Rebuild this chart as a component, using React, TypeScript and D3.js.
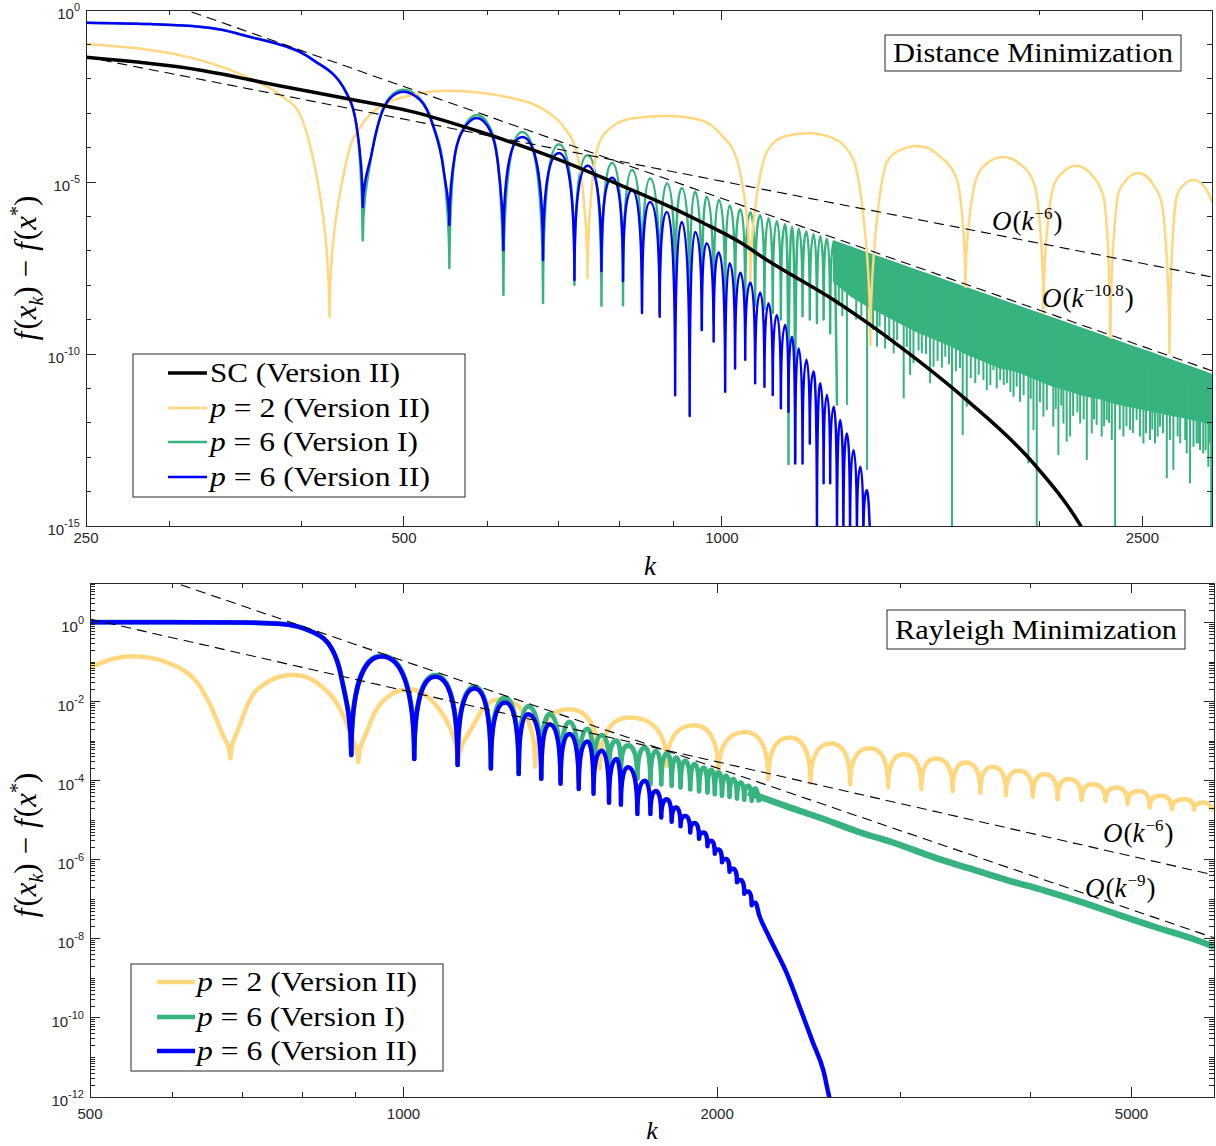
import React from 'react';
import * as d3 from 'd3';

// ================= DATA (values are log10 exponents of f(x_k) - f(x*)) =================
// ---- Top panel: Distance Minimization ----
const topXMajor = [250, 500, 1000, 2500];
const topXMinor = [300, 400, 600, 700, 800, 900, 2000];
const topYMajorExp = [0, -5, -10, -15];

const scK = [250, 320, 382, 441, 510, 590, 683, 787, 913, 954, 1041, 1103, 1276, 1475, 1705, 1972, 2183, 2260];
const scE = [-1.376, -1.744, -2.21, -2.57, -2.96, -3.54, -4.22, -4.99, -5.86, -6.15, -6.76, -7.27, -8.43, -9.79, -11.34, -13.18, -14.97, -15.8];

const p2TopK = [250, 320, 357, 384, 398, 425, 442, 457, 475, 510, 549, 635, 683, 708, 729, 746, 763, 787, 824, 887, 954, 1002, 1031, 1064, 1103, 1144, 1207, 1276, 1332, 1382, 1433, 1475, 1530, 1609, 1669, 1700, 1743, 1781, 1846, 1929, 1979, 2015, 2059, 2097, 2165, 2247, 2297, 2332, 2373, 2407, 2478, 2561, 2608, 2652, 2694, 2734, 2796, 2876, 2913];
const p2TopE = [-0.99, -1.45, -1.98, -2.53, -3.0, -8.92, -4.27, -3.30, -2.80, -2.47, -2.35, -2.57, -2.96, -3.39, -4.17, -7.79, -3.97, -3.39, -3.15, -3.08, -3.20, -3.68, -4.26, -7.94, -4.12, -3.68, -3.58, -3.73, -4.36, -9.74, -4.41, -4.07, -3.95, -4.26, -4.94, -8.05, -4.85, -4.46, -4.27, -4.56, -5.14, -8.81, -5.14, -4.75, -4.53, -4.85, -5.43, -9.53, -5.33, -4.99, -4.74, -5.09, -5.62, -9.97, -5.43, -5.09, -4.94, -5.23, -5.61];

const p6v2TopK = [250, 287, 320, 337, 357, 377, 398, 410, 441, 451, 457, 466, 475, 485, 499, 518, 533, 545, 552, 559, 570, 586, 603, 613, 621, 647, 677, 701, 725, 746, 769, 787, 806, 822, 840, 855, 873, 887, 903, 916, 932, 943, 957, 967, 982, 993, 1007, 1017, 1029, 1041, 1052, 1064, 1075, 1087, 1097, 1107, 1117, 1127, 1137, 1148, 1156, 1165, 1173, 1182, 1192, 1202, 1211, 1221, 1230, 1239, 1248, 1257, 1266, 1276, 1285, 1294, 1303, 1313, 1322, 1332, 1342, 1352, 1361, 1372, 1382];
const p6v2TopE = [-0.37, -0.41, -0.485, -0.58, -0.78, -0.96, -1.21, -1.45, -2.41, -3.39, -5.73, -4.17, -3.10, -2.57, -2.38, -2.62, -3.39, -4.65, -6.25, -4.17, -3.44, -3.14, -3.49, -4.36, -6.98, -3.69, -7.27, -4.16, -7.85, -4.53, -7.59, -4.88, -7.88, -5.23, -8.81, -5.58, -8.92, -5.87, -11.2, -6.16, -11.8, -6.45, -9.30, -6.78, -9.64, -7.05, -11.10, -7.36, -10.42, -7.64, -10.17, -7.93, -10.85, -8.22, -10.95, -8.53, -11.19, -8.87, -11.58, -9.16, -11.68, -9.50, -13.18, -9.84, -13.18, -10.17, -12.60, -10.51, -15.5, -10.85, -13.76, -11.19, -13.76, -11.53, -15.5, -11.92, -15.5, -12.31, -15.5, -12.79, -15.5, -13.28, -15.5, -13.95, -15.5];

const p6v1TopK = [250, 287, 320, 337, 357, 377, 398, 410, 441, 451, 457, 466, 475, 485, 499, 518, 533, 545, 552, 559, 570, 586, 603, 613, 621, 647, 677, 701, 725, 746, 769, 787, 806, 822, 840, 855, 873, 887, 903, 916, 932, 943, 957, 967, 982, 993, 1007, 1017, 1029, 1041, 1052, 1064, 1075, 1087, 1097, 1107, 1117, 1127, 1137, 1148, 1156, 1165, 1173, 1182, 1192, 1202, 1211, 1221, 1230, 1239, 1248, 1257, 1266, 1276, 1285];
const p6v1TopE = [-0.37, -0.41, -0.485, -0.58, -0.78, -0.96, -1.21, -1.45, -2.41, -3.39, -6.69, -4.17, -3.08, -2.53, -2.32, -2.58, -3.35, -4.6, -7.50, -4.17, -3.40, -3.05, -3.42, -4.30, -8.28, -3.55, -8.52, -3.90, -7.99, -4.22, -8.60, -4.45, -8.58, -4.65, -8.6, -4.90, -8.8, -5.04, -8.7, -5.18, -8.9, -5.28, -9.3, -5.43, -9.1, -5.52, -8.7, -5.68, -8.5, -5.80, -8.6, -5.88, -8.6, -5.97, -8.7, -6.06, -8.8, -6.14, -9.0, -6.23, -13.2, -6.30, -13.1, -6.36, -8.9, -6.44, -9.0, -6.52, -9.1, -6.58, -9.0, -6.65, -9.4, -6.72, -11.5];

// dense (unresolved) oscillation band of p = 6 (Version I): upper envelope and solid floor
const p6v1BandK = [1276, 1323, 1372, 1422, 1475, 1529, 1586, 1644, 1705, 1768, 1834, 1901, 1972, 2045, 2120, 2199, 2280, 2364, 2452, 2542, 2637, 2734, 2835, 2910];
const p6v1BandUpper = [-6.72, -6.89, -7.06, -7.23, -7.40, -7.57, -7.74, -7.91, -8.08, -8.25, -8.42, -8.59, -8.76, -8.93, -9.10, -9.27, -9.44, -9.61, -9.79, -9.95, -10.13, -10.30, -10.47, -10.60];
const p6v1BandLower = [-7.9, -8.3, -8.6, -8.85, -9.1, -9.35, -9.55, -9.75, -10.0, -10.2, -10.4, -10.5, -10.7, -10.9, -11.05, -11.2, -11.3, -11.45, -11.55, -11.65, -11.75, -11.85, -11.95, -12.05];
// individual downward spikes below the solid part
const p6v1SpikeK = [1290, 1300, 1313, 1340, 1355, 1372, 1390, 1402, 1410, 1427, 1440, 1454, 1465, 1486, 1496, 1507, 1518, 1535, 1546, 1560, 1574, 1586, 1600, 1615, 1627, 1640, 1651, 1665, 1680, 1690, 1705, 1720, 1737, 1750, 1768, 1781, 1795, 1807, 1820, 1834, 1848, 1861, 1875, 1888, 1901, 1915, 1930, 1950, 1960, 1972, 1986, 2000, 2015, 2030, 2059, 2070, 2082, 2095, 2105, 2120, 2136, 2150, 2170, 2183, 2200, 2215, 2239, 2250, 2263, 2288, 2300, 2313, 2325, 2339, 2356, 2380, 2399, 2415, 2434, 2450, 2469, 2487, 2506, 2520, 2542, 2555, 2570, 2585, 2598, 2615, 2637, 2655, 2675, 2700, 2715, 2745, 2754, 2774, 2795, 2814, 2825, 2835, 2855, 2870, 2887, 2895, 2905];
const p6v1SpikeE = [-8.6, -8.9, -11.48, -9.0, -8.9, -13.37, -9.3, -9.79, -9.2, -9.84, -9.5, -9.98, -9.6, -11.29, -9.8, -10.61, -10.27, -9.9, -9.98, -10.0, -10.85, -10.37, -10.2, -10.4, -10.08, -10.3, -15.5, -10.5, -10.4, -12.36, -11.53, -10.7, -10.85, -10.6, -10.76, -11.05, -10.9, -10.47, -11.0, -10.76, -10.9, -10.85, -11.1, -11.24, -10.95, -11.39, -11.2, -13.18, -11.3, -12.21, -15.5, -11.4, -11.82, -11.63, -12.11, -11.6, -12.94, -11.5, -12.02, -12.55, -12.40, -11.8, -11.7, -12.02, -11.9, -13.08, -12.31, -11.9, -12.06, -12.40, -12.1, -11.92, -12.0, -12.50, -15.5, -12.2, -12.40, -12.1, -12.21, -12.3, -11.92, -12.40, -12.60, -12.3, -12.50, -12.2, -12.60, -12.4, -12.11, -12.3, -13.61, -12.5, -13.37, -12.4, -12.6, -12.5, -12.89, -13.76, -12.7, -12.60, -12.6, -12.79, -12.89, -12.8, -13.28, -12.6, -15.5];

// reference slopes (anchor k, anchor exponent, power)
const topRefK0 = [250, 1665];
const topRefE0 = [-1.366, -7.87];
const topRefPow = [6, 10.8];

// ---- Bottom panel: Rayleigh Minimization ----
const botXMajor = [500, 1000, 2000, 5000];
const botXMinor = [600, 700, 800, 900, 3000, 4000];
const botYMajorExp = [0, -2, -4, -6, -8, -10, -12];

const p2BotK = [500, 549, 604, 643, 669, 682, 696, 724, 783, 847, 888, 905, 924, 953, 1011, 1082, 1128, 1166, 1237, 1338, 1443, 1543, 1649, 1790, 1903, 2006, 2129, 2240, 2348, 2459, 2573, 2684, 2802, 2919, 3023, 3141, 3245, 3367, 3464, 3579, 3681, 3788, 3897, 4020, 4126, 4246, 4351, 4477, 4587, 4720, 4837, 4956, 5079, 5204, 5333, 5465, 5624, 5740, 5881, 6002];
const p2BotE = [-1.14, -0.85, -1.10, -1.77, -2.78, -3.43, -2.61, -1.69, -1.33, -1.77, -2.78, -3.53, -2.70, -2.02, -1.69, -2.19, -3.60, -2.61, -1.94, -3.65, -2.19, -3.70, -2.40, -3.63, -2.60, -3.84, -2.77, -3.96, -2.91, -4.05, -3.06, -4.09, -3.18, -4.16, -3.33, -4.21, -3.44, -4.26, -3.54, -4.30, -3.65, -4.37, -3.75, -4.40, -3.84, -4.47, -3.96, -4.49, -4.09, -4.52, -4.17, -4.59, -4.26, -4.68, -4.38, -4.72, -4.47, -4.73, -4.55, -4.76];

const p6v2BotK = [500, 600, 700, 759, 821, 854, 871, 891, 953, 1024, 1073, 1127, 1170, 1213, 1252, 1290, 1317, 1356, 1381, 1415, 1443, 1473, 1502, 1522, 1550, 1575, 1601, 1617, 1643, 1677, 1705, 1726, 1747, 1768, 1790, 1809, 1827, 1845, 1864, 1885, 1903, 1922, 1942, 1958, 1974, 1990, 2006, 2022, 2040, 2056, 2073, 2090, 2107, 2124, 2142, 2159, 2177, 2195, 2240, 2333, 2410, 2470, 2531, 2562, 2600];
const p6v2BotE = [0.01, 0.01, 0.0, -0.03, -0.26, -0.68, -1.35, -3.35, -0.86, -3.45, -1.37, -3.60, -1.67, -3.69, -2.02, -3.83, -2.32, -3.95, -2.57, -4.08, -2.82, -4.21, -3.01, -4.33, -3.24, -4.56, -3.45, -4.61, -3.66, -4.84, -4.00, -4.84, -4.26, -4.93, -4.47, -5.04, -4.68, -5.15, -4.89, -5.31, -5.07, -5.47, -5.31, -5.66, -5.52, -5.85, -5.74, -6.06, -5.98, -6.30, -6.23, -6.57, -6.51, -6.86, -6.80, -7.15, -7.09, -7.40, -7.91, -8.87, -9.84, -10.60, -11.35, -11.98, -12.6];

const p6v1BotK = [500, 600, 700, 759, 821, 854, 871, 891, 953, 1024, 1073, 1127, 1170, 1213, 1252, 1290, 1317, 1356, 1381, 1415, 1443, 1473, 1502, 1522, 1550, 1575, 1601, 1617, 1643, 1677, 1705, 1726, 1747, 1768, 1790, 1809, 1827, 1845, 1864, 1885, 1903, 1922, 1942, 1958, 1974, 1990, 2006, 2022, 2040, 2056, 2073, 2090, 2107, 2124, 2142, 2159, 2177, 2195];
const p6v1BotE = [0.01, 0.01, 0.0, -0.03, -0.26, -0.68, -1.35, -3.35, -0.84, -3.45, -1.33, -3.60, -1.62, -3.69, -1.90, -3.83, -2.12, -3.95, -2.32, -4.0, -2.51, -4.0, -2.69, -3.9, -2.85, -3.7, -2.99, -3.75, -3.11, -3.95, -3.16, -4.09, -3.25, -4.09, -3.31, -4.13, -3.42, -4.17, -3.50, -4.22, -3.58, -4.27, -3.67, -4.30, -3.73, -4.34, -3.79, -4.38, -3.88, -4.41, -3.96, -4.45, -4.05, -4.48, -4.13, -4.51, -4.20, -4.55];
const p6v1BotTailK = [2142, 2195, 2333, 2531, 2746, 2979, 3231, 3506, 3803, 4126, 4476, 4857, 5269, 5716, 6002];
const p6v1BotTailE = [-4.30, -4.40, -4.65, -4.97, -5.31, -5.60, -5.94, -6.23, -6.52, -6.78, -7.07, -7.39, -7.70, -7.99, -8.20];

const botRefK0 = [500, 1000];
const botRefE0 = [0.09, -0.97];
const botRefPow = [6, 9];

// ================= STYLE =================
const C_YEL = '#FFD77F';
const C_GRN = '#36B37E';
const C_BLU = '#0000FF';
const C_AX = '#262626';
const SERIF = '"Liberation Serif", "Times New Roman", serif';
const SANS = '"Liberation Sans", Arial, Helvetica, sans-serif';

const TOP = { left: 86, right: 1212, top: 10, bottom: 526 };
const BOT = { left: 90, right: 1214, top: 583, bottom: 1097 };

type Sc = (v: number) => number;

// smooth oscillating curve: cusps at dips, flat tops at peaks
function oscPath(ks: number[], es: number[], x: Sc, y: Sc): string {
  const P = ks.map((k, i) => [x(k), y(Math.pow(10, es[i]))]);
  const n = P.length;
  const type = P.map((p, i) => {
    if (i === 0 || i === n - 1) return 'r';
    const a = P[i - 1][1], b = P[i + 1][1];
    if (p[1] > a && p[1] > b) return 'd';
    if (p[1] < a && p[1] < b) return 'p';
    return 'r';
  });
  const sec = (i: number) => (P[i + 1][1] - P[i][1]) / (P[i + 1][0] - P[i][0]);
  const slope: number[] = P.map((p, i) => {
    if (i === 0 || i === n - 1) return NaN;
    const s0 = sec(i - 1), s1 = sec(i);
    if (s0 * s1 <= 0) return 0;
    const h0 = p[0] - P[i - 1][0], h1 = P[i + 1][0] - p[0];
    const pp = (s0 * h1 + s1 * h0) / (h0 + h1);
    return 2 * Math.sign(s0) * Math.min(Math.abs(s0), Math.abs(s1), 0.5 * Math.abs(pp));
  });
  if (n > 2) {
    slope[0] = (3 * sec(0) - slope[1]) / 2;
    slope[n - 1] = (3 * sec(n - 2) - slope[n - 2]) / 2;
  } else {
    slope[0] = slope[n - 1] = sec(0);
  }
  const path = d3.path();
  path.moveTo(P[0][0], P[0][1]);
  for (let i = 0; i < n - 1; i++) {
    const [x0, y0] = P[i];
    const [x1, y1] = P[i + 1];
    const dx = x1 - x0, dy = y1 - y0;
    const t0 = type[i], t1 = type[i + 1];
    let c1x, c1y, c2x, c2y;
    if (t0 === 'd') { c1x = x0; c1y = y0 + dy * (t1 === 'p' ? 0.7 : 0.5); }
    else if (t0 === 'p') { c1x = x0 + dx * (t1 === 'd' ? 0.6 : 0.4); c1y = y0; }
    else { c1x = x0 + dx / 3; c1y = y0 + slope[i] * dx / 3; }
    if (t1 === 'd') { c2x = x1; c2y = y1 - dy * (t0 === 'p' ? 0.7 : 0.5); }
    else if (t1 === 'p') { c2x = x1 - dx * (t0 === 'd' ? 0.6 : 0.4); c2y = y1; }
    else { c2x = x1 - dx / 3; c2y = y1 - slope[i + 1] * dx / 3; }
    path.bezierCurveTo(c1x, c1y, c2x, c2y, x1, y1);
  }
  return path.toString();
}

function smoothPath(ks: number[], es: number[], x: Sc, y: Sc): string {
  const line = d3.line<number>()
    .x((_, i) => x(ks[i]))
    .y((e) => y(Math.pow(10, e)))
    .curve(d3.curveMonotoneX);
  return line(es) || '';
}

function refLine(k0: number, e0: number, p: number, kMin: number, kMax: number, x: Sc, y: Sc) {
  const v = (k: number) => Math.pow(10, e0 - p * Math.log10(k / k0));
  return `M${x(kMin)},${y(v(kMin))}L${x(kMax)},${y(v(kMax))}`;
}

function Sup({ base, exp, x, y, size = 15 }: { base: string; exp: string; x: number; y: number; size?: number }) {
  return (
    <text x={x} y={y} textAnchor="end" fontFamily={SANS} fontSize={size} fill={C_AX}>
      {base}
      <tspan dy={-8} fontSize={11}>{exp}</tspan>
    </text>
  );
}

function Frame({ box, x, y, xMajor, xMinor, yMajorExp, yMinor, xLabelY }: any) {
  const els: any[] = [];
  const MJ = 10, MN = 5;
  xMajor.forEach((k: number, i: number) => {
    const px = x(k);
    els.push(<line key={'xM' + i} x1={px} x2={px} y1={box.bottom} y2={box.bottom - MJ} stroke={C_AX} />);
    els.push(<line key={'xMt' + i} x1={px} x2={px} y1={box.top} y2={box.top + MJ} stroke={C_AX} />);
    els.push(<text key={'xL' + i} x={px} y={xLabelY} textAnchor="middle" fontFamily={SANS} fontSize={15} fill={C_AX}>{k}</text>);
  });
  xMinor.forEach((k: number, i: number) => {
    const px = x(k);
    els.push(<line key={'xm' + i} x1={px} x2={px} y1={box.bottom} y2={box.bottom - MN} stroke={C_AX} />);
    els.push(<line key={'xmt' + i} x1={px} x2={px} y1={box.top} y2={box.top + MN} stroke={C_AX} />);
  });
  yMajorExp.forEach((e: number, i: number) => {
    const py = y(Math.pow(10, e));
    els.push(<line key={'yM' + i} x1={box.left} x2={box.left + MJ} y1={py} y2={py} stroke={C_AX} />);
    els.push(<line key={'yMr' + i} x1={box.right} x2={box.right - MJ} y1={py} y2={py} stroke={C_AX} />);
    els.push(<Sup key={'yL' + i} base="10" exp={String(e)} x={box.left - 6} y={py + 9} />);
  });
  yMinor.forEach((v: number, i: number) => {
    const py = y(v);
    els.push(<line key={'ym' + i} x1={box.left} x2={box.left + MN} y1={py} y2={py} stroke={C_AX} />);
    els.push(<line key={'ymr' + i} x1={box.right} x2={box.right - MN} y1={py} y2={py} stroke={C_AX} />);
  });
  els.push(<rect key="box" x={box.left} y={box.top} width={box.right - box.left} height={box.bottom - box.top} fill="none" stroke={C_AX} strokeWidth={1} />);
  return <g shapeRendering="crispEdges">{els}</g>;
}

function Orate({ x, y, exp }: { x: number; y: number; exp: string }) {
  return (
    <text x={x} y={y} fontFamily={SERIF} fontSize={27} fill="#000">
      <tspan fontStyle="italic">O</tspan>
      <tspan dx={1}>(</tspan>
      <tspan fontStyle="italic">k</tspan>
      <tspan dy={-11} dx={1} fontSize={17}>{exp}</tspan>
      <tspan dy={11} dx={1}>)</tspan>
    </text>
  );
}

function YLabel({ cx, cy }: { cx: number; cy: number }) {
  return (
    <text transform={`translate(${cx},${cy}) rotate(-90)`} textAnchor="middle" fontFamily={SERIF} fontSize={31} fill="#000">
      <tspan fontStyle="italic">f</tspan>
      <tspan dx={2}>(</tspan>
      <tspan fontStyle="italic">x</tspan>
      <tspan dy={7} fontSize={20} fontStyle="italic">k</tspan>
      <tspan dy={-7}>)</tspan>
      <tspan dx={9}>−</tspan>
      <tspan dx={9} fontStyle="italic">f</tspan>
      <tspan dx={2}>(</tspan>
      <tspan fontStyle="italic">x</tspan>
      <tspan dy={-12} fontSize={20}>*</tspan>
      <tspan dy={12}>)</tspan>
    </text>
  );
}

function LegendRow({ x0, x1, tx, y, color, width, label, len }: any) {
  return (
    <g>
      <line x1={x0} x2={x1} y1={y} y2={y} stroke={color} strokeWidth={width} />
      <text x={tx} y={y + 9} fontFamily={SERIF} fontSize={27} fill="#000" textLength={len} lengthAdjust="spacingAndGlyphs">
        {label}
      </text>
    </g>
  );
}

function pLabel(n: string, ver: string) {
  return [<tspan key="a" fontStyle="italic">p</tspan>, <tspan key="b">{` = ${n} (Version ${ver})`}</tspan>];
}

export default function App() {
  const xT = d3.scaleLog().domain([250, 2910]).range([TOP.left, TOP.right]);
  const yT = d3.scaleLog().domain([1e-15, 1]).range([TOP.bottom, TOP.top]);
  const xB = d3.scaleLog().domain([500, 6000]).range([BOT.left, BOT.right]);
  const yB = d3.scaleLog().domain([1e-12, 10]).range([BOT.bottom, BOT.top]);

  const topYMinor: number[] = [];
  for (let e = -14; e <= -1; e++) if (!topYMajorExp.includes(e)) topYMinor.push(Math.pow(10, e));
  const botYMinor: number[] = [];
  for (let e = -12; e <= 0; e++) {
    if (!botYMajorExp.includes(e)) botYMinor.push(Math.pow(10, e));
    for (let m = 2; m <= 9; m++) botYMinor.push(m * Math.pow(10, e));
  }

  const bandArea = d3.area<number>()
    .x((_, i) => xT(p6v1BandK[i]))
    .y0((_, i) => yT(Math.pow(10, p6v1BandLower[i])))
    .y1((_, i) => yT(Math.pow(10, p6v1BandUpper[i])))
    .curve(d3.curveLinear)(p6v1BandK) || '';
  const upperAt = d3.scaleLog().domain(p6v1BandK).range(p6v1BandUpper).clamp(true);

  return (
    <svg width={1216} height={1146} style={{ position: 'absolute', left: 0, top: 0, background: '#fff' }}>
      <defs>
        <clipPath id="clipT"><rect x={TOP.left} y={TOP.top} width={TOP.right - TOP.left} height={TOP.bottom - TOP.top} /></clipPath>
        <clipPath id="clipB"><rect x={BOT.left} y={BOT.top} width={BOT.right - BOT.left} height={BOT.bottom - BOT.top} /></clipPath>
      </defs>
      <rect x={0} y={0} width={1216} height={1146} fill="#fff" />

      {/* ---------------- TOP PANEL ---------------- */}
      <g clipPath="url(#clipT)" fill="none" strokeLinejoin="round">
        <path d={oscPath(p6v1TopK, p6v1TopE, xT, yT)} stroke={C_GRN} strokeWidth={2.5} />
        <path d={bandArea} fill={C_GRN} stroke={C_GRN} strokeWidth={1.5} />
        {p6v1SpikeK.map((k, i) => (
          <line key={i} x1={xT(k)} x2={xT(k)} y1={yT(Math.pow(10, upperAt(k) - 0.3))} y2={yT(Math.pow(10, p6v1SpikeE[i]))} stroke={C_GRN} strokeWidth={2} />
        ))}
        <path d={oscPath(p2TopK, p2TopE, xT, yT)} stroke={C_YEL} strokeWidth={2.5} />
        <path d={oscPath(p6v2TopK, p6v2TopE, xT, yT)} stroke={C_BLU} strokeWidth={2.5} />
        <path d={smoothPath(scK, scE, xT, yT)} stroke="#000" strokeWidth={3.5} />
        {topRefK0.map((k0, i) => (
          <path key={i} d={refLine(k0, topRefE0[i], topRefPow[i], 250, 2910, xT, yT)} stroke="#000" strokeWidth={1.1} strokeDasharray="10,6" />
        ))}
      </g>
      <Frame box={TOP} x={xT} y={yT} xMajor={topXMajor} xMinor={topXMinor} yMajorExp={topYMajorExp} yMinor={topYMinor} xLabelY={543} />
      <Orate x={992} y={230} exp="−6" />
      <Orate x={1042} y={307} exp="−10.8" />
      <rect x={885} y={35} width={296} height={36} fill="#fff" stroke={C_AX} />
      <text x={893} y={62} fontFamily={SERIF} fontSize={28} fill="#000" textLength={280} lengthAdjust="spacingAndGlyphs">Distance Minimization</text>
      <g>
        <rect x={133} y={354} width={332} height={143} fill="#fff" stroke={C_AX} />
        <LegendRow x0={168} x1={207} tx={210} y={373} color="#000" width={3.5} label="SC (Version II)" len={190} />
        <LegendRow x0={168} x1={207} tx={210} y={408} color={C_YEL} width={2.5} label={pLabel('2', 'II')} len={220} />
        <LegendRow x0={168} x1={207} tx={210} y={442} color={C_GRN} width={2.5} label={pLabel('6', 'I')} len={208} />
        <LegendRow x0={168} x1={207} tx={210} y={477} color={C_BLU} width={2.5} label={pLabel('6', 'II')} len={220} />
      </g>
      <text x={650} y={575} fontFamily={SERIF} fontStyle="italic" fontSize={27} textAnchor="middle">k</text>
      <YLabel cx={36} cy={268} />

      {/* ---------------- BOTTOM PANEL ---------------- */}
      <g clipPath="url(#clipB)" fill="none" strokeLinejoin="round">
        <path d={oscPath(p2BotK, p2BotE, xB, yB)} stroke={C_YEL} strokeWidth={4.5} />
        <path d={smoothPath(p6v1BotTailK, p6v1BotTailE, xB, yB)} stroke={C_GRN} strokeWidth={6.5} />
        <path d={oscPath(p6v1BotK, p6v1BotE, xB, yB)} stroke={C_GRN} strokeWidth={4.8} />
        <path d={oscPath(p6v2BotK, p6v2BotE, xB, yB)} stroke={C_BLU} strokeWidth={4.5} />
        {botRefK0.map((k0, i) => (
          <path key={i} d={refLine(k0, botRefE0[i], botRefPow[i], 500, 6000, xB, yB)} stroke="#000" strokeWidth={1.1} strokeDasharray="10,6" />
        ))}
      </g>
      <Frame box={BOT} x={xB} y={yB} xMajor={botXMajor} xMinor={botXMinor} yMajorExp={botYMajorExp} yMinor={botYMinor} xLabelY={1119} />
      <Orate x={1103} y={842} exp="−6" />
      <Orate x={1085} y={897} exp="−9" />
      <rect x={887} y={610} width={298} height={39} fill="#fff" stroke={C_AX} />
      <text x={895} y={639} fontFamily={SERIF} fontSize={28} fill="#000" textLength={282} lengthAdjust="spacingAndGlyphs">Rayleigh Minimization</text>
      <g>
        <rect x={131} y={964} width={312} height={107} fill="#fff" stroke={C_AX} />
        <LegendRow x0={157} x1={195} tx={197} y={982} color={C_YEL} width={4.5} label={pLabel('2', 'II')} len={220} />
        <LegendRow x0={157} x1={195} tx={197} y={1017} color={C_GRN} width={4.5} label={pLabel('6', 'I')} len={208} />
        <LegendRow x0={157} x1={195} tx={197} y={1051} color={C_BLU} width={4.5} label={pLabel('6', 'II')} len={220} />
      </g>
      <text x={652} y={1139} fontFamily={SERIF} fontStyle="italic" fontSize={26} textAnchor="middle">k</text>
      <YLabel cx={36} cy={845} />
    </svg>
  );
}
